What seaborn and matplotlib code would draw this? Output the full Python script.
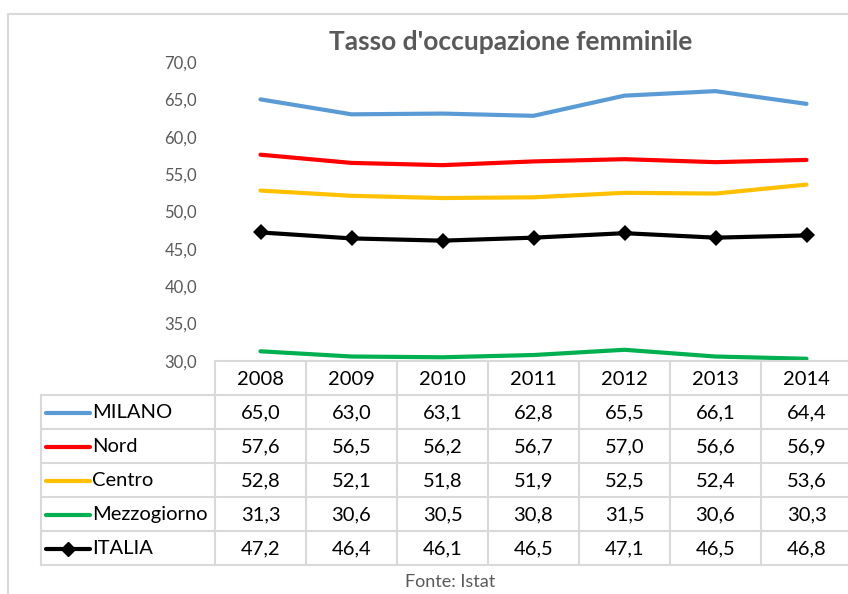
import seaborn as sns
import pandas as pd
import matplotlib.pyplot as plt
from matplotlib.patches import Rectangle
from matplotlib.lines import Line2D

years = [2008, 2009, 2010, 2011, 2012, 2013, 2014]
milano = [65.0, 63.0, 63.1, 62.8, 65.5, 66.1, 64.4]
nord = [57.6, 56.5, 56.2, 56.7, 57.0, 56.6, 56.9]
centro = [52.8, 52.1, 51.8, 51.9, 52.5, 52.4, 53.6]
mezzogiorno = [31.3, 30.6, 30.5, 30.8, 31.5, 30.6, 30.3]
italia = [47.2, 46.4, 46.1, 46.5, 47.1, 46.5, 46.8]

series_names = ['MILANO', 'Nord', 'Centro', 'Mezzogiorno', 'ITALIA']
series_values = [milano, nord, centro, mezzogiorno, italia]
colors = ['#5B9BD5', '#FF0000', '#FFC000', '#00B050', '#000000']
y_ticks = [30, 35, 40, 45, 50, 55, 60, 65, 70]

sns.set_theme(style='white')
plt.rcParams['font.family'] = ['Lato', 'DejaVu Sans']

W, H = 848, 594
fig = plt.figure(figsize=(W / 100, H / 100), dpi=100)

# chart frame
fig.patches.append(Rectangle((8 / W, -0.1), 1.2, 1.1 - 14 / H,
                             transform=fig.transFigure, fill=False,
                             edgecolor='#d9d9d9', linewidth=1.5))

x0, x1 = 215, 852
ax = fig.add_axes([x0 / W, 1 - 361 / H, (x1 - x0) / W, (361 - 62) / H])
df = pd.DataFrame({'anno': years * 5,
                   'valore': sum(series_values, []),
                   'area': sum([[n] * len(years) for n in series_names], [])})
for name, col in zip(series_names, colors):
    sub = df[df['area'] == name]
    sns.lineplot(data=sub, x='anno', y='valore', color=col, linewidth=3,
                 marker='D' if name == 'ITALIA' else None, markersize=8,
                 markeredgewidth=0, ax=ax, legend=False)
ax.set_xlim(years[0] - 0.5, years[-1] + 0.5)
ax.set_ylim(30, 70)
ax.set_yticks(y_ticks)
ax.set_yticklabels([f'{v:.1f}'.replace('.', ',') for v in y_ticks],
                   color='#595959', fontsize=12)
ax.tick_params(axis='y', length=0, pad=13)
ax.set_xticks([])
ax.set_xlabel('')
ax.set_ylabel('')
for s in ax.spines.values():
    s.set_visible(False)
ax.patch.set_alpha(0)

# data table
tl = 41
unit = (x1 - x0) / len(years)
left = years[0] - 0.5 - (x0 - tl) / unit
tax = fig.add_axes([tl / W, 1 - 565 / H, (x1 - tl) / W, 204 / H])
tax.set_xlim(left, years[-1] + 0.5)
tax.set_ylim(6, 0)
tax.axis('off')
gc = '#d9d9d9'
tax.plot([years[0] - 0.5, years[-1] + 0.5], [0, 0], color=gc, lw=1.5, clip_on=False)
for r in range(1, 7):
    tax.plot([left, years[-1] + 0.5], [r, r], color=gc, lw=1.5, clip_on=False)
tax.plot([left, left], [1, 6], color=gc, lw=1.5, clip_on=False)
for k in range(len(years) + 1):
    xv = years[0] - 0.5 + k
    tax.plot([xv, xv], [0, 6], color=gc, lw=1.5, clip_on=False)
fs = 14.5
for yr in years:
    tax.text(yr, 0.55, str(yr), ha='center', va='center', fontsize=fs, color='black')
for i, (name, vals, col) in enumerate(zip(series_names, series_values, colors)):
    r = i + 1.52
    tax.add_line(Line2D([left + 5 / unit, left + 49 / unit], [r, r], color=col, lw=3))
    if name == 'ITALIA':
        tax.plot([left + 27 / unit], [r], marker='D', color=col, markersize=7)
    tax.text(left + 51 / unit, r, name, ha='left', va='center', fontsize=fs, color='black')
    for yr, v in zip(years, vals):
        tax.text(yr, r, f'{v:.1f}'.replace('.', ','), ha='center', va='center',
                 fontsize=fs, color='black')

fig.text(511 / W, 1 - 42 / H, "Tasso d'occupazione femminile", ha='center', va='center',
         fontsize=19, fontweight='bold', color='#595959')
fig.text(450 / W, 1 - 582 / H, 'Fonte: Istat', ha='center', va='center',
         fontsize=13, color='#595959')

fig.savefig('out.png', dpi=100)
